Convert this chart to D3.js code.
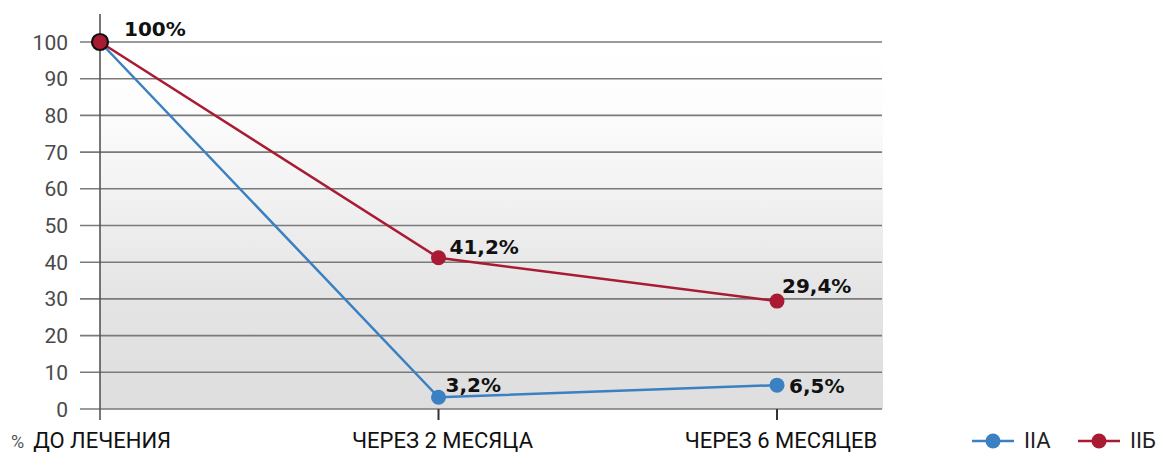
<!DOCTYPE html>
<html><head><meta charset="utf-8">
<script src="https://cdn.jsdelivr.net/npm/d3@7"></script>
<style>body{margin:0;background:#fff}svg{display:block}</style>
</head><body>
<script>
const categories = ["ДО ЛЕЧЕНИЯ", "ЧЕРЕЗ 2 МЕСЯЦА", "ЧЕРЕЗ 6 МЕСЯЦЕВ"];
const seriesNames = ["IIA", "IIБ"];
const valuesIIA = [100, 3.2, 6.5];
const valuesIIB = [100, 41.2, 29.4];
const pointLabels = [
  {s: 1, i: 0, text: "100%"},
  {s: 1, i: 1, text: "41,2%"},
  {s: 0, i: 1, text: "3,2%"},
  {s: 1, i: 2, text: "29,4%"},
  {s: 0, i: 2, text: "6,5%"}
];
const yTicks = [0,10,20,30,40,50,60,70,80,90,100];

const W = 1157, H = 454;
const colors = ["#3a80c2", "#a81b32"];
const svg = d3.select("body").append("svg").attr("width", W).attr("height", H);

const x = d3.scalePoint().domain(categories).range([100, 777]);
const y = d3.scaleLinear().domain([0, 100]).range([409, 42]);

const defs = svg.append("defs");
const g = defs.append("linearGradient").attr("id","bg").attr("x1",0).attr("y1",0).attr("x2",0).attr("y2",1);
g.append("stop").attr("offset","0").attr("stop-color","#ffffff");
g.append("stop").attr("offset","0.18").attr("stop-color","#fdfdfd");
g.append("stop").attr("offset","0.7").attr("stop-color","#e4e4e4");
g.append("stop").attr("offset","1").attr("stop-color","#dedede");

svg.append("rect").attr("x", 100).attr("y", y(100)).attr("width", 783).attr("height", y(0)-y(100)).attr("fill","url(#bg)");

// grid lines
svg.append("g").selectAll("line").data(yTicks).join("line")
  .attr("x1", 80).attr("x2", 882).attr("y1", d=>y(d)).attr("y2", d=>y(d))
  .attr("stroke", "#7a7a7a").attr("stroke-width", 1.6);

// y tick labels
svg.append("g").selectAll("text").data(yTicks).join("text")
  .attr("x", 68).attr("y", d=>y(d)).attr("dy", "0.36em").attr("text-anchor","end")
  .attr("font-family","Roboto, sans-serif").attr("font-size", 21).attr("fill","#4a4a4a")
  .text(d=>d);

// vertical axis
svg.append("line").attr("x1",100).attr("x2",100).attr("y1",14).attr("y2",420).attr("stroke","#555").attr("stroke-width",1.6);
// category ticks
svg.append("g").selectAll("line").data(categories.slice(1)).join("line")
  .attr("x1", d=>x(d)).attr("x2", d=>x(d)).attr("y1", 409).attr("y2", 420)
  .attr("stroke","#333").attr("stroke-width",2);

// x labels
const xl = svg.append("g").attr("font-family","Roboto, sans-serif").attr("fill","#111");
categories.forEach((c,i)=>{
  const t = xl.append("text").attr("y", 448).attr("font-size", 22);
  if (i === 0) {
    t.attr("x", 11).attr("text-anchor","start");
    t.append("tspan").attr("font-size",18).attr("fill","#555").text("%");
    t.append("tspan").attr("dx", 9).text(c);
  } else {
    t.attr("x", x(c) + 4).attr("text-anchor","middle").text(c);
  }
});

const series = [valuesIIA, valuesIIB];
const line = d3.line().x((d,i)=>x(categories[i])).y(d=>y(d));
series.forEach((vals, s)=>{
  svg.append("path").attr("d", line(vals)).attr("fill","none").attr("stroke", colors[s]).attr("stroke-width", 2.5);
});
series.forEach((vals, s)=>{
  svg.append("g").selectAll("circle").data(vals.slice(1)).join("circle")
    .attr("cx", (d,i)=>x(categories[i+1])).attr("cy", d=>y(d)).attr("r", 7.5).attr("fill", colors[s]);
});
// starting point
svg.append("circle").attr("cx", x(categories[0])).attr("cy", y(valuesIIB[0])).attr("r", 8)
  .attr("fill", colors[1]).attr("stroke","#111").attr("stroke-width",2.2);

// point labels
const offs = [[24,-6],[11,-4],[7,-5],[5,-8],[12,8]];
svg.append("g").selectAll("text").data(pointLabels).join("text")
  .attr("x", (d,k)=>x(categories[d.i]) + offs[k][0])
  .attr("y", (d,k)=>y(series[d.s][d.i]) + offs[k][1])
  .attr("font-family","'DejaVu Sans', sans-serif").attr("font-weight","bold").attr("font-size",20)
  .attr("fill","#111").text(d=>d.text);

// legend
const lg = svg.append("g");
const lx = [972, 1078];
seriesNames.forEach((n,s)=>{
  lg.append("line").attr("x1", lx[s]).attr("x2", lx[s]+42).attr("y1",441).attr("y2",441).attr("stroke",colors[s]).attr("stroke-width",2.5);
  lg.append("circle").attr("cx", lx[s]+21).attr("cy",441).attr("r",7.5).attr("fill",colors[s]);
  lg.append("text").attr("x", lx[s]+52).attr("y",448).attr("font-family","Roboto, sans-serif").attr("font-size",22).attr("fill","#222").text(n);
});
</script>
</body></html>
